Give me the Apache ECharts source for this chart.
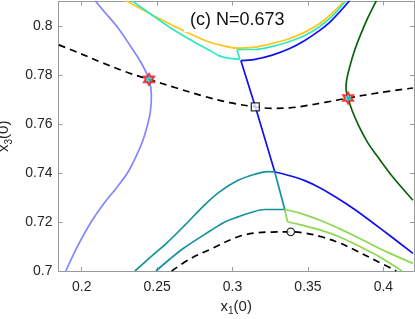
<!DOCTYPE html>
<html>
<head>
<meta charset="utf-8">
<script src="https://cdn.jsdelivr.net/npm/echarts@6/dist/echarts.min.js"></script>
<style>
html,body{margin:0;padding:0;background:#fff;}
#chart{width:415px;height:319px;}
</style>
</head>
<body>
<div id="chart"></div>
<script>
// Axis ticks
var xTicks = [0.2, 0.25, 0.3, 0.35, 0.4];
var yTicks = [0.7, 0.72, 0.74, 0.76, 0.78, 0.8];

// Curves [x1(0), x3(0)]
var lightBlue = [[0.2088,0.8104],[0.2154,0.8055],[0.2234,0.7998],[0.2320,0.7921],[0.2393,0.7851],[0.2446,0.7782],[0.2462,0.7717],[0.2456,0.7656],[0.2439,0.7603],[0.2406,0.7534],[0.2364,0.7473],[0.2303,0.7400],[0.2234,0.7342],[0.2148,0.7277],[0.2062,0.7200],[0.1976,0.7106],[0.1894,0.7000]];
var yellow = [[0.2293,0.8104],[0.2419,0.8061],[0.2552,0.8018],[0.2684,0.7978],[0.2817,0.7941],[0.2929,0.7921],[0.3029,0.7910],[0.3148,0.7914],[0.3258,0.7928],[0.3379,0.7949],[0.3479,0.7975],[0.3578,0.8010],[0.3656,0.8050],[0.3744,0.8104]];
var cyanLeft = [[0.2331,0.8104],[0.2452,0.8051],[0.2585,0.7994],[0.2717,0.7945],[0.2850,0.7900],[0.2916,0.7877],[0.2982,0.7868],[0.3048,0.7864]];
var cyanLink = [[0.3048,0.7864],[0.3029,0.7904]];
var cyanRight = [[0.3029,0.7904],[0.3148,0.7904],[0.3258,0.7916],[0.3379,0.7937],[0.3479,0.7961],[0.3578,0.7998],[0.3656,0.8037],[0.3724,0.8083],[0.3754,0.8104]];
var blueUpper = [[0.3777,0.8104],[0.3656,0.8022],[0.3578,0.7982],[0.3479,0.7941],[0.3379,0.7908],[0.3258,0.7880],[0.3148,0.7864],[0.3055,0.7859]];
var blueLink = [[0.3055,0.7859],[0.3151,0.7670],[0.3280,0.7404]];
var blueLower = [[0.3280,0.7404],[0.3380,0.7389],[0.3479,0.7369],[0.3578,0.7340],[0.3699,0.7296],[0.3810,0.7251],[0.3921,0.7201],[0.4042,0.7145],[0.4196,0.7072]];
var tealUpper = [[0.2353,0.7000],[0.2452,0.7055],[0.2563,0.7114],[0.2684,0.7187],[0.2817,0.7271],[0.2916,0.7324],[0.3037,0.7370],[0.3148,0.7395],[0.3236,0.7406],[0.3280,0.7404]];
var tealLink = [[0.3280,0.7404],[0.3346,0.7251]];
var tealLower = [[0.2492,0.7000],[0.2585,0.7049],[0.2673,0.7092],[0.2850,0.7163],[0.2949,0.7200],[0.3037,0.7221],[0.3128,0.7240],[0.3214,0.7251],[0.3346,0.7251]];
var greenUpper = [[0.3346,0.7251],[0.3446,0.7236],[0.3589,0.7205],[0.3711,0.7172],[0.3810,0.7143],[0.3909,0.7112],[0.4030,0.7076],[0.4196,0.7031]];
var greenLink = [[0.3346,0.7251],[0.3364,0.7201]];
var greenLower = [[0.3364,0.7201],[0.3446,0.7189],[0.3589,0.7166],[0.3711,0.7139],[0.3810,0.7110],[0.3909,0.7079],[0.3987,0.7053],[0.4123,0.7000]];
var darkGreen = [[0.3954,0.8104],[0.3898,0.8035],[0.3851,0.7968],[0.3809,0.7900],[0.3776,0.7832],[0.3756,0.7778],[0.3752,0.7745],[0.3766,0.7706],[0.3792,0.7656],[0.3840,0.7588],[0.3899,0.7521],[0.3954,0.7473],[0.4053,0.7391],[0.4196,0.7289]];
var dashedUpper = [[0.1848,0.7923],[0.1989,0.7888],[0.2121,0.7854],[0.2287,0.7814],[0.2446,0.7782],[0.2618,0.7749],[0.2817,0.7712],[0.2982,0.7687],[0.3152,0.7670],[0.3258,0.7664],[0.3379,0.7666],[0.3479,0.7674],[0.3611,0.7688],[0.3766,0.7706],[0.3975,0.7728],[0.4196,0.7747]];
var dashedLower = [[0.2596,0.7000],[0.2717,0.7049],[0.2850,0.7088],[0.3037,0.7140],[0.3148,0.7155],[0.3258,0.7159],[0.3386,0.7160],[0.3479,0.7155],[0.3589,0.7140],[0.3711,0.7114],[0.3810,0.7086],[0.3942,0.7045],[0.4086,0.7000]];

// Special points
var starPts = [[0.2446,0.7782],[0.3766,0.7706]];
var squarePts = [[0.3151,0.7670]];
var circlePts = [[0.3386,0.7160]];

var titleText = '(c) N=0.673';

var hexagram = 'path://M0,-10L2.887,-5L8.66,-5L5.774,0L8.66,5L2.887,5L0,10L-2.887,5L-8.66,5L-5.774,0L-8.66,-5L-2.887,-5Z';

var FONT = 'Liberation Sans, Arial, Helvetica, sans-serif';
var AXC = '#9a9a9a';
var TXC = '#262626';

function lineSeries(data, color, opts) {
  opts = opts || {};
  return {
    type: 'line', data: data, showSymbol: false, symbol: 'none',
    smooth: opts.smooth ? 0.35 : false,
    clip: true, animation: false, silent: true,
    lineStyle: { color: color, width: 1.7, type: opts.dashed ? [7, 5] : 'solid' }
  };
}

var chart = echarts.init(document.getElementById('chart'), null, { renderer: 'canvas' });
chart.setOption({
  backgroundColor: '#fff',
  animation: false,
  grid: { left: 58.5, right: 1, top: 1.5, bottom: 48, containLabel: false, outerBoundsMode: 'none' },
  xAxis: [{
    type: 'value', min: 0.1846, max: 0.4203, position: 'bottom',
    axisLine: { show: true, onZero: false, lineStyle: { color: AXC, width: 1 } },
    axisTick: { show: true, inside: true, length: 4, customValues: xTicks, lineStyle: { color: AXC } },
    axisLabel: { customValues: xTicks, color: TXC, fontSize: 14, margin: 9, fontFamily: FONT },
    splitLine: { show: false },
    name: 'x{s|1}(0)', nameLocation: 'middle', nameGap: 24,
    nameTextStyle: { color: TXC, fontSize: 15, fontFamily: FONT,
      rich: { s: { fontSize: 10, fontFamily: FONT, color: TXC, padding: [10, 0, 0, 0] } } }
  }, {
    type: 'value', min: 0.1846, max: 0.4203, position: 'top',
    axisLine: { show: true, onZero: false, lineStyle: { color: AXC, width: 1 } },
    axisTick: { show: true, inside: true, length: 4, customValues: xTicks, lineStyle: { color: AXC } },
    axisLabel: { show: false }, splitLine: { show: false }
  }],
  yAxis: [{
    type: 'value', min: 0.7, max: 0.81, position: 'left',
    axisLine: { show: true, onZero: false, lineStyle: { color: AXC, width: 1 } },
    axisTick: { show: true, inside: true, length: 4, customValues: yTicks, lineStyle: { color: AXC } },
    axisLabel: { customValues: yTicks, color: TXC, fontSize: 14, margin: 6, fontFamily: FONT },
    splitLine: { show: false },
    name: 'x{s|3}(0)', nameLocation: 'middle', nameGap: 39,
    nameTextStyle: { color: TXC, fontSize: 15, fontFamily: FONT,
      rich: { s: { fontSize: 10, fontFamily: FONT, color: TXC, padding: [10, 0, 0, 0] } } }
  }, {
    type: 'value', min: 0.7, max: 0.81, position: 'right',
    axisLine: { show: true, onZero: false, lineStyle: { color: AXC, width: 1 } },
    axisTick: { show: true, inside: true, length: 4, customValues: yTicks, lineStyle: { color: AXC } },
    axisLabel: { show: false }, splitLine: { show: false }
  }],
  graphic: [{
    type: 'text', left: 184, top: 9, z: 50,
    style: { text: titleText, fontSize: 18, fontFamily: FONT, fill: '#111',
      backgroundColor: '#fff', padding: [2, 4, 3, 6] }
  }],
  series: [
    lineSeries(lightBlue, '#8585ff', { smooth: true }),
    lineSeries(yellow, '#ffc61a', { smooth: true }),
    lineSeries(cyanLeft, '#2ee8c4', { smooth: true }),
    lineSeries(cyanLink, '#2ee8c4'),
    lineSeries(cyanRight, '#2ee8c4', { smooth: true }),
    lineSeries(blueUpper, '#1010f0', { smooth: true }),
    lineSeries(blueLink, '#1010f0'),
    lineSeries(blueLower, '#1010f0', { smooth: true }),
    lineSeries(tealUpper, '#13929c', { smooth: true }),
    lineSeries(tealLink, '#13929c'),
    lineSeries(tealLower, '#13929c', { smooth: true }),
    lineSeries(greenUpper, '#8cd952', { smooth: true }),
    lineSeries(greenLink, '#8cd952'),
    lineSeries(greenLower, '#8cd952', { smooth: true }),
    lineSeries(darkGreen, '#0a640a', { smooth: true }),
    lineSeries(dashedUpper, '#000', { dashed: true, smooth: true }),
    lineSeries(dashedLower, '#000', { dashed: true, smooth: true }),
    { type: 'scatter', data: starPts, symbol: hexagram, symbolSize: [10, 11], z: 10, silent: true,
      itemStyle: { color: '#22dddd', borderColor: '#ff1010', borderWidth: 2 } },
    { type: 'scatter', data: squarePts, symbol: 'rect', symbolSize: 8, z: 10, silent: true,
      itemStyle: { color: '#fff', borderColor: '#000', borderWidth: 1.3 } },
    { type: 'scatter', data: circlePts, symbol: 'circle', symbolSize: 7.5, z: 10, silent: true,
      itemStyle: { color: '#fff', borderColor: '#000', borderWidth: 1.3 } }
  ]
});
</script>
</body>
</html>
